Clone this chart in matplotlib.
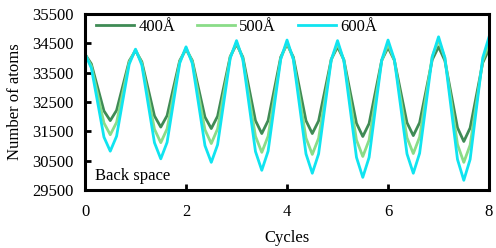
import numpy as np
import matplotlib
matplotlib.use("Agg")
import matplotlib.pyplot as plt

plt.rcParams['font.family'] = ['Liberation Serif', 'DejaVu Serif']
plt.rcParams['font.size'] = 12

# cycle positions, sampled every 1/8 cycle
cycles = np.arange(65) * 0.125

# number of atoms
atoms_400 = [34130, 33800, 33000, 32200, 31870, 32220, 33060, 33900,
             34250, 33870, 32950, 32030, 31650, 32040, 32980, 33910,
             34300, 33910, 32950, 31990, 31600, 32020, 33040, 34050,
             34470, 34030, 32950, 31870, 31430, 31870, 32950, 34030,
             34470, 34030, 32950, 31870, 31430, 31860, 32900, 33950,
             34380, 33940, 32850, 31780, 31330, 31770, 32850, 33920,
             34360, 33920, 32860, 31800, 31360, 31800, 32870, 33940,
             34380, 33910, 32770, 31630, 31160, 31620, 32730, 33840,
             34300]
atoms_500 = [34130, 33730, 32760, 31790, 31390, 31810, 32840, 33860,
             34280, 33820, 32700, 31580, 31120, 31590, 32730, 33870,
             34340, 33870, 32720, 31560, 31090, 31590, 32810, 34030,
             34530, 33980, 32660, 31340, 30790, 31340, 32660, 33980,
             34530, 33970, 32630, 31280, 30720, 31270, 32600, 33940,
             34490, 33930, 32570, 31210, 30650, 31210, 32560, 33910,
             34470, 33930, 32610, 31290, 30750, 31310, 32680, 34050,
             34610, 34000, 32530, 31060, 30450, 31040, 32480, 33910,
             34500]
atoms_600 = [34140, 33660, 32490, 31310, 30830, 31340, 32570, 33790,
             34300, 33760, 32440, 31120, 30570, 31130, 32480, 33820,
             34380, 33810, 32420, 31020, 30450, 31050, 32520, 33990,
             34590, 33950, 32390, 30820, 30180, 30830, 32400, 33960,
             34610, 33950, 32350, 30740, 30080, 30740, 32340, 33930,
             34590, 33910, 32270, 30620, 29940, 30620, 32280, 33930,
             34610, 33950, 32350, 30740, 30080, 30760, 32400, 34040,
             34720, 34010, 32280, 30550, 29840, 30550, 32280, 34010,
             34720]

labels = ['400Å', '500Å', '600Å']
colors = ['#3f8b55', '#8adc88', '#10e4f0']
yticks = [29500, 30500, 31500, 32500, 33500, 34500, 35500]
xticks = [0, 2, 4, 6, 8]

fig = plt.figure(figsize=(4.96, 2.48), dpi=100)
ax = fig.add_axes([0.1714, 0.2327, 0.8146, 0.7113])

for series, lab, col in zip([atoms_400, atoms_500, atoms_600], labels, colors):
    ax.plot(cycles, series, color=col, linewidth=2.0, label=lab,
            solid_joinstyle='round')

ax.set_xlim(0, 8)
ax.set_ylim(29500, 35500)
ax.set_xticks(xticks)
ax.set_yticks(yticks)
ax.tick_params(direction='in', length=4, width=2)
ax.tick_params(axis='x', pad=10)
ax.tick_params(axis='y', pad=8.5)
for sp in ax.spines.values():
    sp.set_linewidth(2.2)

ax.set_xlabel('Cycles', labelpad=7)
ax.set_ylabel('Number of atoms', labelpad=6)
ax.text(0.025, 0.06, 'Back space', transform=ax.transAxes)

ax.legend(loc='upper left', ncol=3, frameon=False, handlelength=2.3,
          columnspacing=1.3, borderaxespad=0, handletextpad=0.25,
          bbox_to_anchor=(0.01, 1.01))

fig.savefig('out.png', dpi=100)
